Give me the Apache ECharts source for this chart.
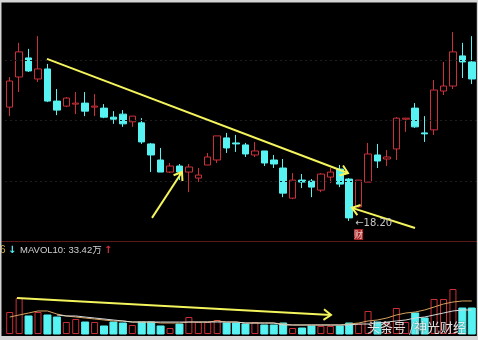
<!DOCTYPE html>
<html><head><meta charset="utf-8">
<script src="https://cdn.jsdelivr.net/npm/echarts@6/dist/echarts.min.js"></script>
<style>html,body{margin:0;padding:0;background:#000;}#c{width:478px;height:340px;}</style>
</head><body><div id="c"></div><script>
// ---- data ----
const days = ['1','2','3','4','5','6','7','8','9','10','11','12','13','14','15','16','17','18','19','20','21','22','23','24','25','26','27','28','29','30','31','32','33','34','35','36','37','38','39','40','41','42','43','44','45','46','47','48','49','50'];
const opens  = [21.60,22.50,23.07,22.44,22.74,21.78,21.63,21.69,21.72,21.60,21.57,21.30,21.39,21.16,21.13,20.50,20.02,19.66,19.84,19.66,19.48,19.87,20.02,20.68,20.53,20.47,20.17,20.29,20.02,19.78,18.88,19.42,19.39,19.12,19.51,19.75,19.45,18.62,19.36,20.17,20.05,20.35,21.24,21.57,20.83,20.92,22.08,22.23,23.13,22.95];
const closes = [22.38,23.25,22.68,22.74,21.78,21.51,21.87,21.72,21.48,21.63,21.30,21.24,21.10,21.33,20.56,20.17,19.66,19.84,19.66,19.81,19.57,20.11,20.74,20.38,20.50,20.20,20.29,19.93,19.90,19.03,19.42,19.36,19.21,19.60,19.66,19.30,18.29,19.42,20.20,19.99,20.11,21.27,21.27,21.01,20.80,22.11,22.23,23.25,22.95,22.44];
const lows   = [21.33,22.05,22.65,22.35,21.75,21.36,21.60,21.39,21.33,21.33,21.27,21.10,21.01,21.01,20.50,19.66,19.66,19.63,19.42,19.06,19.36,19.87,19.93,20.23,20.26,20.11,20.11,19.84,19.78,18.91,18.85,19.18,18.91,19.06,19.33,19.21,18.20,18.59,19.36,19.78,19.84,20.02,20.86,20.98,20.56,20.77,21.96,22.14,22.47,22.29];
const highs  = [22.50,23.52,23.34,23.72,22.89,22.14,21.90,22.05,22.05,21.99,21.69,21.48,21.51,21.33,21.27,20.53,20.38,19.93,19.90,19.90,19.78,20.23,20.74,20.83,20.77,20.53,20.56,20.29,20.17,20.05,19.63,19.60,19.45,19.63,19.78,19.87,19.48,19.42,20.53,20.50,20.32,21.30,21.27,21.72,21.33,22.41,22.95,23.84,23.52,23.72];
// volume in 万
const volumes = [29.0,47.5,23.8,29.0,25.1,22.4,15.8,19.8,15.8,15.8,10.6,15.8,14.5,11.9,15.8,15.8,10.6,7.9,13.2,22.4,15.8,15.8,18.5,14.5,14.5,13.2,15.8,11.9,11.9,14.5,7.9,7.9,10.6,10.6,10.6,10.6,14.5,13.2,30.4,15.8,14.5,34.3,15.8,27.7,21.1,46.2,46.2,59.4,34.3,34.3];
const mavol5  = [22.4,25.1,27.7,30.4,30.4,26.4,23.8,22.4,21.1,19.8,18.5,17.2,17.2,15.8,15.8,15.8,14.5,14.5,14.5,15.8,15.8,15.8,17.2,15.8,15.8,14.5,14.5,14.5,14.5,13.2,11.9,11.9,11.9,11.9,11.9,11.9,13.2,14.5,17.2,18.5,21.1,25.1,27.7,29.0,31.7,35.6,39.6,42.2,43.6,43.6];
const mavol10 = [null,null,null,null,null,25.1,23.8,23.8,22.4,21.1,19.8,18.5,17.2,15.8,15.8,15.8,15.8,15.8,15.8,15.8,15.8,15.8,15.8,15.8,15.8,14.5,14.5,14.5,14.5,11.9,11.9,11.9,11.9,11.9,11.9,11.9,11.9,13.2,13.2,14.5,15.8,17.2,18.5,21.1,22.4,25.1,27.7,30.4,31.7,31.7];
const priceGridLevels = [19.4, 21.2, 23.0];
// hand-drawn arrows: [dayIndex, value]
const trendArrowMain = [[3.95,23.04],[35.87,19.63]];
const trendArrowUp   = [[15.09,18.29],[18.27,19.66]];
const trendArrowLeft = [[42.98,17.99],[36.30,18.59]];
const volArrow       = [[0.77,47.5],[34.07,25.1]];
const lowLabel = '18.20';
const lowIndex = 36;
const volTitle = 'MAVOL10: 33.42万';
const watermark = '头条号 /神光财经';

// ---- style ----
const RED = '#cc3038', CYAN = '#57f2f2', YEL = '#f4f45c';
const chart = echarts.init(document.getElementById('c'));
const volData = volumes.map((v,i)=>{
  const up = closes[i] >= opens[i];
  return {value:v, itemStyle: up ? {color:'rgba(0,0,0,0)', borderColor:RED, borderWidth:1} : {color:CYAN, borderColor:CYAN}};
});
const candleData = opens.map((o,i)=>[o, closes[i], lows[i], highs[i]]);
const L = 5, R = 1.5;
const option = {
  backgroundColor:'#000',
  animation:false,
  grid:[{left:L,right:R,top:0,height:241},{left:L,right:R,top:254,height:80}],
  xAxis:[
    {type:'category',data:days,gridIndex:0,show:false},
    {type:'category',data:days,gridIndex:1,show:false},
    {type:'value',gridIndex:0,min:-0.5,max:49.5,show:false},
    {type:'value',gridIndex:1,min:-0.5,max:49.5,show:false}
  ],
  yAxis:[
    {type:'value',gridIndex:0,min:17.6,max:24.8,show:false,splitLine:{show:false}},
    {type:'value',gridIndex:1,min:0,max:105.6,show:false,splitLine:{show:false}}
  ],
  series:[
    {type:'candlestick',xAxisIndex:0,yAxisIndex:0,data:candleData,barWidth:7,
      itemStyle:{color:'rgba(0,0,0,0)',color0:CYAN,borderColor:RED,borderColor0:CYAN,borderWidth:1},
      markLine:{silent:true,symbol:'none',label:{show:false},
        lineStyle:{color:'#1e1c1c',type:[2,3],width:1},
        data:priceGridLevels.map(v=>({yAxis:v}))}},
    {type:'bar',xAxisIndex:1,yAxisIndex:1,data:volData,barWidth:7},
    {type:'line',xAxisIndex:1,yAxisIndex:1,data:mavol5,symbol:'none',lineStyle:{color:'#d6a25e',width:1}},
    {type:'line',xAxisIndex:1,yAxisIndex:1,data:mavol10,symbol:'none',lineStyle:{color:'#d8d8d8',width:1}},
    {type:'line',xAxisIndex:2,yAxisIndex:0,data:trendArrowMain,symbol:'none',lineStyle:{color:YEL,width:2},z:10},
    {type:'line',xAxisIndex:2,yAxisIndex:0,data:trendArrowUp,symbol:'none',lineStyle:{color:YEL,width:2},z:10},
    {type:'line',xAxisIndex:2,yAxisIndex:0,data:trendArrowLeft,symbol:'none',lineStyle:{color:YEL,width:2},z:10},
    {type:'line',xAxisIndex:3,yAxisIndex:1,data:volArrow,symbol:'none',lineStyle:{color:YEL,width:2},z:10}
  ]
};
chart.setOption(option);

function toPx(xi, yi, pt){ return chart.convertToPixel({xAxisIndex:xi, yAxisIndex:yi}, pt); }
function chevron(p0,p1,len,ang){
  const dx=p1[0]-p0[0], dy=p1[1]-p0[1], l=Math.hypot(dx,dy), ux=dx/l, uy=dy/l;
  const c=Math.cos(ang), s=Math.sin(ang);
  const w1=[p1[0]-len*(ux*c-uy*s), p1[1]-len*(uy*c+ux*s)];
  const w2=[p1[0]-len*(ux*c+uy*s), p1[1]-len*(uy*c-ux*s)];
  return {type:'polyline',shape:{points:[w1,p1,w2]},style:{stroke:YEL,lineWidth:2,fill:null},z:100};
}
const g = [];
[[trendArrowMain,2,0],[trendArrowUp,2,0],[trendArrowLeft,2,0],[volArrow,3,1]].forEach(([a,xi,yi])=>{
  g.push(chevron(toPx(xi,yi,a[0]), toPx(xi,yi,a[1]), 9, Math.PI/5));
});
const lp = toPx(0,0,[lowIndex, lows[lowIndex]]);
g.push({type:'text',x:lp[0]+6,y:lp[1]+2,style:{text:'←'+lowLabel,fill:'#c8c8c8',font:'10px "DejaVu Sans", sans-serif',verticalAlign:'middle'},z:100});
const fp = toPx(0,0,[lowIndex+1, lows[lowIndex]]);
g.push({type:'rect',shape:{x:fp[0]-4.5,y:229,width:9,height:11},style:{fill:'#a82828'},z:100});
g.push({type:'text',x:fp[0],y:234.5,style:{text:'财',fill:'#f3c8c8',font:'9px "Noto Sans CJK SC"',align:'center',verticalAlign:'middle'},z:101});
// separator + header
g.push({type:'line',shape:{x1:0,y1:241.5,x2:478,y2:241.5},style:{stroke:'#5a1818',lineWidth:1},z:50});
g.push({type:'text',x:0,y:250,style:{text:'6',fill:'#d8b040',font:'10px "Liberation Sans", sans-serif',verticalAlign:'middle'},z:100});
g.push({type:'text',x:8,y:250,style:{text:'↓',fill:CYAN,font:'bold 10px "DejaVu Sans", sans-serif',verticalAlign:'middle'},z:100});
g.push({type:'text',x:20,y:250,style:{text:volTitle,fill:'#d0d0d0',font:'9.5px "Liberation Sans", "Noto Sans CJK SC", sans-serif',verticalAlign:'middle'},z:100});
g.push({type:'text',x:104,y:250,style:{text:'↑',fill:RED,font:'bold 10px "DejaVu Sans", sans-serif',verticalAlign:'middle'},z:100});
// watermark
g.push({type:'text',x:367,y:327,style:{text:watermark,fill:'rgba(245,245,245,0.9)',font:'13px "Noto Sans CJK SC"',verticalAlign:'middle',textShadowColor:'rgba(0,0,0,0.6)',textShadowBlur:2},z:120});
// frame
g.push({type:'rect',shape:{x:0,y:0,width:478,height:2.5},style:{fill:'#d4d4d4'},z:130});
g.push({type:'rect',shape:{x:0,y:336,width:478,height:4},style:{fill:'#d4d4d4'},z:130});
g.push({type:'rect',shape:{x:0,y:0,width:1.5,height:340},style:{fill:'#d4d4d4'},z:130});
g.push({type:'rect',shape:{x:476.8,y:0,width:1.2,height:340},style:{fill:'#d4d4d4'},z:130});
chart.setOption({graphic:g});
</script></body></html>
